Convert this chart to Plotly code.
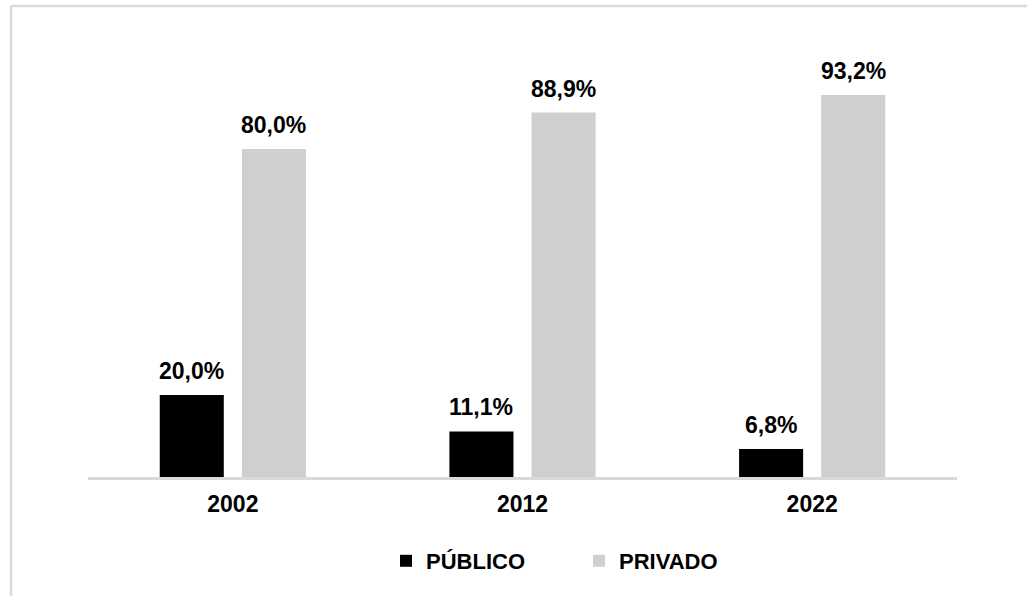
import plotly.graph_objects as go

# ---- data ----
years = ["2002", "2012", "2022"]
publico = [20.0, 11.1, 6.8]
privado = [80.0, 88.9, 93.2]
series_names = ["PÚBLICO", "PRIVADO"]
series_colors = ["#000000", "#D0CECE"]

FONT = "Liberation Sans, Arial, sans-serif"
W, H = 1027, 596
# plot area in pixels
PL, PR, PT, PB = 88, 957, 67, 477
BARGAP = 0.433
GROUPGAP = 0.22

fig = go.Figure()
for name, vals, col in zip(series_names, [publico, privado], series_colors):
    fig.add_trace(go.Bar(x=years, y=vals, name=name, marker_color=col,
                         marker_line_width=0, hoverinfo="skip"))

def fmt(v):
    return f"{v:.1f}%".replace(".", ",")

slot = (1 - BARGAP) / 2
for si, vals in enumerate([publico, privado]):
    off = (si - 0.5) * slot
    for i, v in enumerate(vals):
        fig.add_annotation(x=i + off, y=v, xref="x", yref="y", text=fmt(v),
                           showarrow=False, yanchor="bottom", yshift=9,
                           font=dict(family=FONT, size=23, color="#000000", weight="bold"))

pw = PR - PL
ph = PB - PT
def px_x(p):
    return (p - PL) / pw
def px_y(p):
    return (PB - p) / ph

# outer frame (left and top border lines)
border = "#D9D9D9"
fig.add_shape(type="line", xref="paper", yref="paper", x0=px_x(11), x1=px_x(11),
              y0=px_y(6), y1=px_y(H + 5), line=dict(color=border, width=2.5))
fig.add_shape(type="line", xref="paper", yref="paper", x0=px_x(11), x1=px_x(W + 5),
              y0=px_y(6), y1=px_y(6), line=dict(color=border, width=2.5))

fig.update_layout(
    width=W, height=H,
    margin=dict(l=PL, r=W - PR, t=PT, b=H - PB),
    paper_bgcolor="white", plot_bgcolor="white",
    barmode="group", bargap=BARGAP, bargroupgap=GROUPGAP,
    showlegend=True,
    legend=dict(orientation="h", xref="container", yref="container",
                x=386 / W, xanchor="left", y=(H - 561) / H, yanchor="middle",
                font=dict(family=FONT, size=22, color="#000000", weight="bold"),
                entrywidth=148, entrywidthmode="pixels",
                itemwidth=30, bgcolor="rgba(0,0,0,0)"),
    xaxis=dict(type="category", showgrid=False, showline=True, linecolor=border,
               linewidth=2.5, ticks="", zeroline=False,
               tickfont=dict(family=FONT, size=23, color="#000000", weight="bold"),
               ticklabelstandoff=5),
    yaxis=dict(range=[0, 100], visible=False, showgrid=False, zeroline=False),
)

fig.write_html("out.html", config={"displayModeBar": False},
               post_script="document.body.style.margin='0px';")
